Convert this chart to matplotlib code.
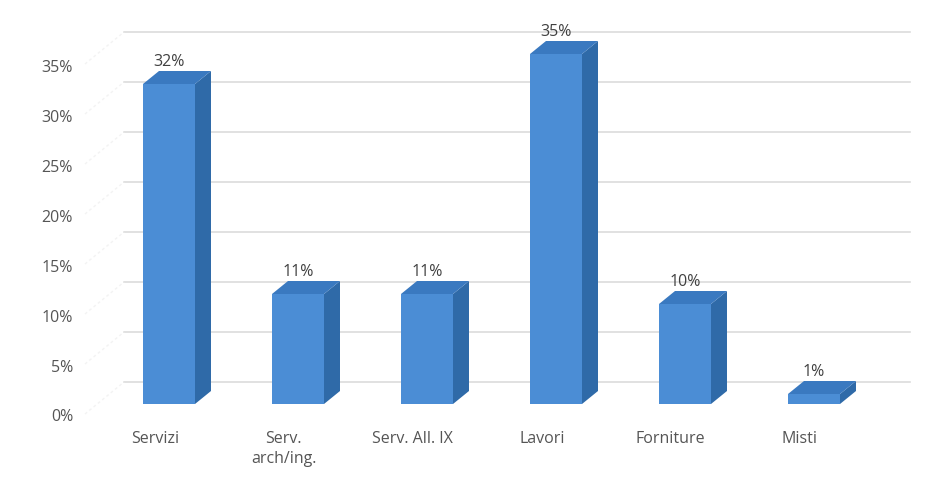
import matplotlib
matplotlib.use("Agg")
import matplotlib.pyplot as plt
from matplotlib.patches import Polygon
import numpy as np

categories = ["Servizi", "Serv.\narch/ing.", "Serv. All. IX", "Lavori", "Forniture", "Misti"]
values = [32, 11, 11, 35, 10, 1]
value_labels = ["32%", "11%", "11%", "35%", "10%", "1%"]
yticks = [0, 5, 10, 15, 20, 25, 30, 35]
ytick_labels = ["0%", "5%", "10%", "15%", "20%", "25%", "30%", "35%"]

W, H = 931, 481
fig = plt.figure(figsize=(W / 100, H / 100), dpi=100)
ax = fig.add_axes([0, 0, 1, 1])
# pixel mapping: category i center at 169 + 129*i ; value 0 at y=405 (from top), 10 px per %
px_per_cat = 129.0
x0_px = 169.0
ax.set_xlim((0 - x0_px) / px_per_cat, (W - x0_px) / px_per_cat)
base_from_bottom = H - 405
ax.set_ylim((0 - base_from_bottom) / 10.0, (H - base_from_bottom) / 10.0)
ax.axis("off")

font = "Open Sans"
txt_color = "#555555"
fs = 11.5

bar_w = 52 / px_per_cat
dx = 16 / px_per_cat
dy = 1.3
wall_dy = 2.2
wall_x0 = (124 - x0_px) / px_per_cat
wall_x1 = (910 - x0_px) / px_per_cat

# back-wall gridlines and side-wall diagonals
for t in yticks:
    ax.plot([wall_x0, wall_x1], [t + wall_dy, t + wall_dy], color="#dcdcdc", lw=1.2, zorder=1)
    ax.plot([(85 - x0_px) / px_per_cat, wall_x0], [t - 1.0, t + wall_dy], color="#f3f3f3", lw=1.0,
            ls=(0, (2, 2)), zorder=1)

# y tick labels
for t, lab in zip(yticks, ytick_labels):
    ax.text((73 - x0_px) / px_per_cat, t - 1.25, lab, ha="right", va="center", fontsize=fs,
            family=font, color=txt_color)

front_c = "#4b8dd5"
side_c = "#2f6aa8"
top_c = "#3a79c0"

xs = np.arange(len(categories))
ax.bar(xs, values, width=bar_w, color=front_c, zorder=3, linewidth=0)
for x, v in zip(xs, values):
    l, r = x - bar_w / 2, x + bar_w / 2
    side = Polygon([(r, 0), (r + dx, dy), (r + dx, v + dy), (r, v)], closed=True,
                   facecolor=side_c, edgecolor="none", zorder=3)
    top = Polygon([(l, v), (r, v), (r + dx, v + dy), (l + dx, v + dy)], closed=True,
                  facecolor=top_c, edgecolor="none", zorder=3)
    ax.add_patch(side)
    ax.add_patch(top)

for x, v, lab in zip(xs, values, value_labels):
    ax.text(x, v + dy + 0.95, lab, ha="center", va="center", fontsize=fs, family=font,
            color="#404040", zorder=4)

for x, lab in zip(xs, categories):
    ax.text(x - 0.11, -2.6, lab, ha="center", va="top", fontsize=fs, family=font,
            color=txt_color, linespacing=1.3)

fig.savefig("out.png", dpi=100, facecolor="white")
